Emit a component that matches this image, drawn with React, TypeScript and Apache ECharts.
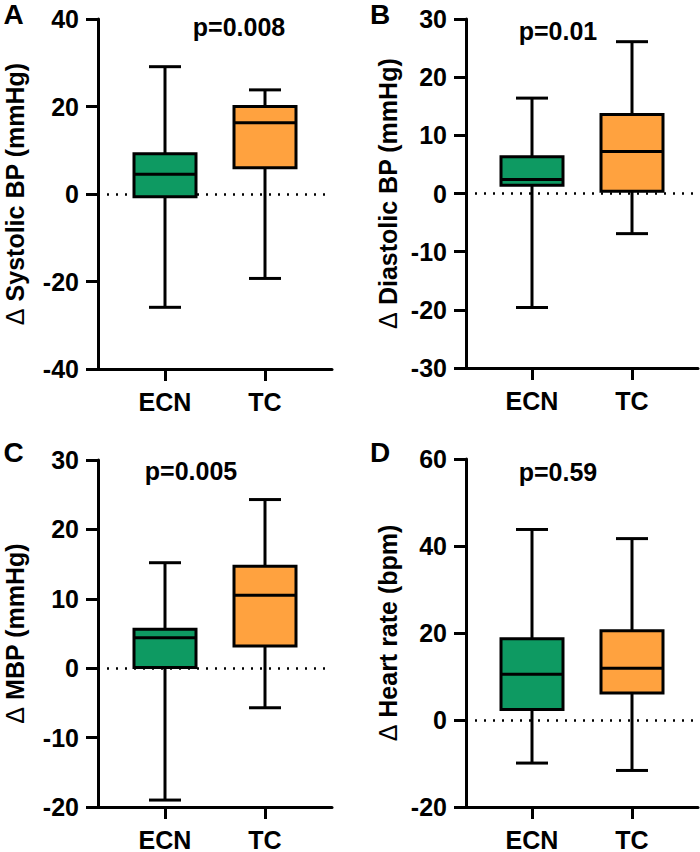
import React, { useEffect, useRef } from 'react';
import * as echarts from 'echarts';

const categories = ['ECN', 'TC'];
const boxColors = ['#0E9A62', '#FFA23F'];

// each box: [min, Q1, median, Q3, max]
const systolicECN = [-25.9, -0.6, 4.5, 9.2, 29.1];
const systolicTC = [-19.3, 6.0, 16.3, 20.0, 23.8];
const diastolicECN = [-19.6, 1.4, 2.4, 6.3, 16.4];
const diastolicTC = [-6.9, 0.4, 7.2, 13.6, 26.1];
const mbpECN = [-19.0, 0.1, 4.4, 5.6, 15.2];
const mbpTC = [-5.7, 3.2, 10.5, 14.7, 24.3];
const hrECN = [-9.9, 2.4, 10.5, 18.7, 43.8];
const hrTC = [-11.6, 6.2, 11.9, 20.5, 41.7];

const panelBoxes = [
  [systolicECN, systolicTC],
  [diastolicECN, diastolicTC],
  [mbpECN, mbpTC],
  [hrECN, hrTC],
];
const panelLetters = ['A', 'B', 'C', 'D'];
const pValues = ['p=0.008', 'p=0.01', 'p=0.005', 'p=0.59'];
const yTitles = ['Systolic BP (mmHg)', 'Diastolic BP (mmHg)', 'MBP (mmHg)', 'Heart rate (bpm)'];
const yMins = [-40, -30, -20, -20];
const yMaxs = [40, 30, 30, 60];
const yIntervals = [20, 10, 10, 20];

const FONT = '"Liberation Sans", Arial, Helvetica, sans-serif';

// layout (pixels)
const grids = [
  { left: 98, top: 19, width: 234, height: 350 },
  { left: 466, top: 19, width: 232, height: 349 },
  { left: 98, top: 460, width: 234, height: 349 },
  { left: 466, top: 459, width: 232, height: 349 },
];
const xRanges = [
  [-0.67, 1.67],
  [-0.66, 1.66],
  [-0.67, 1.67],
  [-0.66, 1.66],
];
const nameGaps = [71, 66, 71, 66];
const letterPos = [
  [13.5, 14],
  [380, 14],
  [13.5, 452],
  [380, 452],
];
const pPos = [
  [239, 27],
  [558, 30.5],
  [191, 471],
  [558, 471.5],
];

const renderBox = (params: any, api: any) => {
  const i = api.value(0);
  const pLo = api.coord([i, api.value(1)]);
  const pQ1 = api.coord([i, api.value(2)]);
  const pMed = api.coord([i, api.value(3)]);
  const pQ3 = api.coord([i, api.value(4)]);
  const pHi = api.coord([i, api.value(5)]);
  const bw = api.size([0.62, 0])[0];
  const cw = api.size([0.32, 0])[0];
  const cx = pMed[0];
  const st = { stroke: '#000', lineWidth: 3, fill: null };
  return {
    type: 'group',
    children: [
      { type: 'line', shape: { x1: cx, y1: pHi[1], x2: cx, y2: pLo[1] }, style: st },
      { type: 'line', shape: { x1: cx - cw / 2, y1: pHi[1], x2: cx + cw / 2, y2: pHi[1] }, style: st },
      { type: 'line', shape: { x1: cx - cw / 2, y1: pLo[1], x2: cx + cw / 2, y2: pLo[1] }, style: st },
      {
        type: 'rect',
        shape: { x: cx - bw / 2, y: pQ3[1], width: bw, height: pQ1[1] - pQ3[1] },
        style: { fill: boxColors[i], stroke: '#000', lineWidth: 3 },
      },
      { type: 'line', shape: { x1: cx - bw / 2, y1: pMed[1], x2: cx + bw / 2, y2: pMed[1] }, style: st },
    ],
  };
};

export default function App() {
  const ref = useRef<HTMLDivElement>(null);
  useEffect(() => {
    if (!ref.current) return;
    const chart = echarts.init(ref.current, null, { renderer: 'svg' });
    const axisLine = { show: true, onZero: false, lineStyle: { color: '#000', width: 3 } };
    const axisTick = { show: true, length: 12, lineStyle: { color: '#000', width: 3 } };
    const labelStyle = { color: '#000', fontSize: 25, fontWeight: 'bold', fontFamily: FONT };

    const option: any = {
      animation: false,
      backgroundColor: '#fff',
      grid: grids.map((g) => ({ ...g, containLabel: false })),
      xAxis: grids.map((_, k) => ({
        type: 'value',
        gridIndex: k,
        min: xRanges[k][0],
        max: xRanges[k][1],
        axisLine,
        axisTick: { ...axisTick, customValues: [0, 1] },
        axisLabel: {
          ...labelStyle,
          margin: 20,
          customValues: [0, 1],
          formatter: (v: number) => categories[Math.round(v)] ?? '',
        },
        splitLine: { show: false },
      })),
      yAxis: grids.map((_, k) => ({
        type: 'value',
        gridIndex: k,
        min: yMins[k],
        max: yMaxs[k],
        interval: yIntervals[k],
        axisLine,
        axisTick,
        axisLabel: { ...labelStyle, margin: 19 },
        splitLine: { show: false },
        name: '{d|Δ} ' + yTitles[k],
        nameLocation: 'middle',
        nameGap: nameGaps[k],
        nameTextStyle: {
          ...labelStyle,
          rich: {
            d: { fontSize: 25, fontWeight: 'normal', fontFamily: FONT, color: '#000' },
          },
        },
      })),
      series: panelBoxes.map((boxes, k) => ({
        type: 'custom',
        xAxisIndex: k,
        yAxisIndex: k,
        z: 3,
        renderItem: renderBox,
        encode: { x: 0, y: [1, 2, 3, 4, 5] },
        data: boxes.map((b, i) => [i, ...b]),
        markLine: {
          silent: true,
          z: 1,
          symbol: ['none', 'none'],
          label: { show: false },
          lineStyle: { color: '#000', width: 2.5, type: [2, 7] },
          data: [[{ coord: [xRanges[k][0] + 0.09, 0] }, { coord: [xRanges[k][1] - 0.01, 0] }]],
        },
      })),
      graphic: [
        ...panelLetters.map((t, k) => ({
          type: 'text',
          x: letterPos[k][0],
          y: letterPos[k][1],
          style: {
            text: t,
            fill: '#000',
            font: `bold 28px ${FONT}`,
            align: 'center',
            verticalAlign: 'middle',
          },
        })),
        ...pValues.map((t, k) => ({
          type: 'text',
          x: pPos[k][0],
          y: pPos[k][1],
          style: {
            text: t,
            fill: '#000',
            font: `bold 25px ${FONT}`,
            align: 'center',
            verticalAlign: 'middle',
          },
        })),
      ],
    };
    chart.setOption(option);
    return () => chart.dispose();
  }, []);
  return (
    <div
      ref={ref}
      style={{ position: 'absolute', left: 0, top: 0, width: 700, height: 852, background: '#fff' }}
    />
  );
}
